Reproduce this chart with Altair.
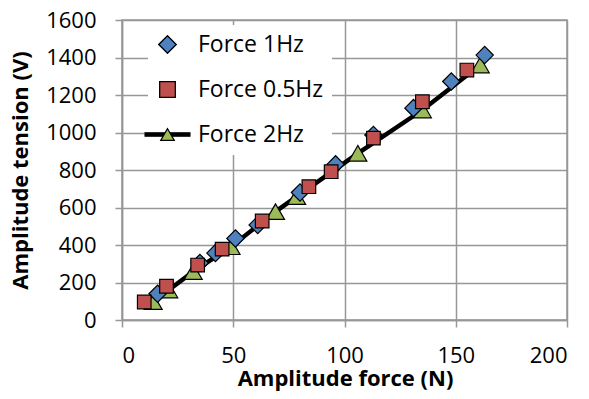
import altair as alt
import pandas as pd

series_names = ["Force 1Hz", "Force 0.5Hz", "Force 2Hz"]

f1_x = [16, 35, 42, 51, 61, 80, 96, 113, 131, 148, 163]
f1_y = [140, 304, 357, 435, 507, 680, 830, 987, 1130, 1272, 1413]

f05_x = [10, 20, 34, 45, 63, 84, 94, 113, 135, 155]
f05_y = [96, 180, 293, 378, 528, 711, 791, 970, 1164, 1333]

f2_x = [14, 21, 32, 49, 69, 78.5, 106, 135, 161]
f2_y = [98, 160, 258, 391, 578, 658, 889, 1120, 1360]

x_ticks = [0, 50, 100, 150, 200]
y_ticks = [0, 200, 400, 600, 800, 1000, 1200, 1400, 1600]

colors = ["#4F81BD", "#C0504D", "#9BBB59"]

GRID = "#979797"
FONT = "Open Sans"
LEG_SIZES = [300, 185, 300]
line_glyph = "M-3.3,-0.26H3.3V0.26H-3.3Z"

d1 = pd.DataFrame({"x": f1_x, "y": f1_y, "series": series_names[0]})
d05 = pd.DataFrame({"x": f05_x, "y": f05_y, "series": series_names[1]})
d2 = pd.DataFrame({"x": f2_x, "y": f2_y, "series": series_names[2]})

xenc = alt.X(
    "x:Q",
    scale=alt.Scale(domain=[0, 200], nice=False, zero=False),
    axis=alt.Axis(
        values=x_ticks, title="Amplitude force (N)", tickSize=7, format="d",
        labelPadding=35, labelBaseline="alphabetic",
        titleX=223, titleY=65, titleBaseline="alphabetic", titleAlign="center",
    ),
)
yenc = alt.Y(
    "y:Q",
    scale=alt.Scale(domain=[0, 1600], nice=False, zero=False),
    axis=alt.Axis(
        values=y_ticks, title="Amplitude tension (V)", tickSize=7, format="d",
        labelPadding=19,
        titleX=-102, titleY=150, titleAngle=270, titleBaseline="middle", titleAlign="center",
    ),
)


def make_legend(bg, label_opacity):
    kw = dict(
        orient="none", legendX=26, legendY=5, title=None,
        padding=8, symbolStrokeColor="black", symbolStrokeWidth=1.2,
        symbolOpacity=1, labelFont=FONT, labelFontSize=23, labelColor="black",
        labelOpacity=label_opacity, labelOffset=19, rowPadding=21,
    )
    if bg:
        kw["fillColor"] = "white"
    return alt.Legend(**kw)


def legend_layer(fill_range, shape_range, bg, label_opacity):
    lg = make_legend(bg, label_opacity)
    return alt.Chart(d2).transform_filter("false").mark_point(
        filled=True, opacity=1, strokeWidth=1.2,
    ).encode(
        x=xenc, y=yenc,
        fill=alt.Fill("series:N", scale=alt.Scale(domain=series_names, range=fill_range),
                      legend=lg, sort=series_names),
        shape=alt.Shape("series:N", scale=alt.Scale(domain=series_names, range=shape_range),
                        legend=lg, sort=series_names),
        stroke=alt.Stroke("series:N", scale=alt.Scale(domain=series_names, range=["black", "black", "black"]),
                          legend=lg, sort=series_names),
        size=alt.Size("series:N", scale=alt.Scale(domain=series_names, range=LEG_SIZES),
                      legend=lg, sort=series_names),
    )


line = alt.Chart(d2).mark_line(color="black", strokeWidth=4.5).encode(x=xenc, y=yenc)

tris = alt.Chart(d2).mark_point(
    shape="triangle-up", filled=True, size=324, opacity=1,
    fill=colors[2], stroke="black", strokeWidth=1.2,
).encode(x=xenc, y=yenc)

diamonds = alt.Chart(d1).mark_point(
    shape="diamond", filled=True, size=300, opacity=1,
    fill=colors[0], stroke="black", strokeWidth=1.2,
).encode(x=xenc, y=yenc)

squares = alt.Chart(d05).mark_point(
    shape="square", filled=True, size=185, opacity=1,
    fill=colors[1], stroke="black", strokeWidth=1.2,
).encode(x=xenc, y=yenc)

# Legend A (underneath): white box, labels, black line glyph for the 2Hz entry
leg_a = legend_layer([colors[0], colors[1], "black"], ["diamond", "square", line_glyph], True, 1)
# Legend B (on top): marker glyphs, triangle drawn over the line
leg_b = legend_layer(colors, ["diamond", "square", "triangle-up"], False, 0)

chart = alt.layer(line, tris, diamonds, squares, leg_a, leg_b).resolve_scale(
    fill="independent", shape="independent", stroke="independent", size="independent"
).properties(
    width=445, height=300,
    autosize=alt.AutoSizeParams(type="none"),
    padding={"left": 114, "top": 12, "right": 14, "bottom": 71},
).configure_axis(
    grid=True, gridColor=GRID, gridWidth=1.5,
    domainColor=GRID, domainWidth=1.5, tickColor=GRID, tickWidth=1.5,
    labelFont=FONT, labelFontSize=22, labelColor="black",
    titleFont=FONT, titleFontSize=22, titleFontWeight="bold", titleColor="black",
).configure_view(stroke=GRID, strokeWidth=1.5)

chart.save("out.html", embed_options={"renderer": "svg", "actions": False})
